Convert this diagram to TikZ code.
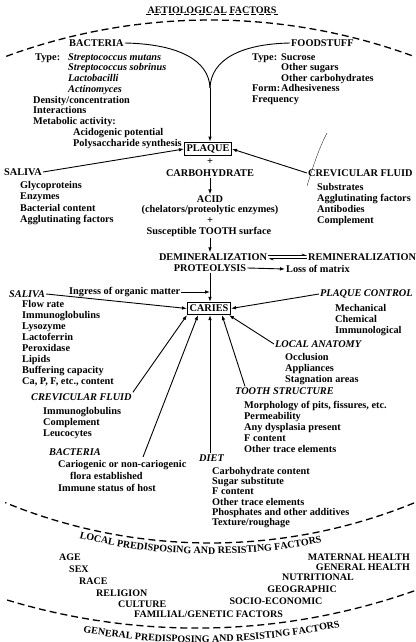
\documentclass[tikz,border=0pt]{standalone}
\usepackage{fontspec}
\setmainfont{Liberation Serif}
\usetikzlibrary{arrows.meta,decorations.text}
\newcommand{\ind}[1]{\hspace*{#1pt}}
\newcommand{\hd}[2]{\makebox[#1pt][l]{#2}}
\newcommand{\bodyfont}{\fontsize{10.3}{11}\selectfont\bfseries}
\newcommand{\capfont}{\fontsize{10}{11}\selectfont\bfseries}

\begin{document}
\begin{tikzpicture}[x=1pt,y=-1pt,
    lbl/.style={font=\bodyfont,inner sep=1pt},
    caplbl/.style={font=\capfont,inner sep=1pt},
    lst/.style={font=\fontsize{10.3}{#1}\selectfont\bfseries,inner sep=0pt,align=left,anchor=north west},
    lst/.default=11,
    boxed/.style={font=\bodyfont,draw,line width=1.1pt,inner xsep=2pt,inner ysep=2.6pt},
    link/.style={line width=0.9pt},
    arr/.style={line width=0.9pt,-{Latex[length=5pt,width=3.6pt]}},
    barb/.style={line width=0.7pt,-{Straight Barb[left,length=3.5pt,width=3pt]}},
    fence/.style={line width=1.3pt,dash pattern=on 7pt off 4pt}]
 \useasboundingbox (0,0) rectangle (415,642);

 \draw[fence] plot[domain=70:110.5,samples=60] ({210+590*cos(\x)},{610-590*sin(\x)});
 \draw (212,10) node[caplbl] (title) {AETIOLOGICAL FACTORS};
 \draw[line width=0.8pt,dash pattern=on 5pt off 2.5pt] (title.south west) -- (title.south east);

 \draw (68,43) node[lbl,anchor=west] (bact) {BACTERIA};
 \draw (33,53) node[lst=10.75] (bactlist) {\ind{2}\hd{33}{Type:}\textit{Streptococcus mutans}\\
   \ind{35}\textit{Streptococcus sobrinus}\\ \ind{35}\textit{Lactobacilli}\\ \ind{35}\textit{Actinomyces}\\
   Density/concentration\\ Interactions\\ Metabolic activity:\\
   \ind{40}Acidogenic potential\\ \ind{40}Polysaccharide synthesis};
 \draw (290,43) node[lbl,anchor=west] (food) {FOODSTUFF};
 \draw (252,53) node[lst=10.5] (foodlist) {\hd{29}{Type:}Sucrose\\ \ind{29}Other sugars\\
   \ind{29}Other carbohydrates\\ \hd{29}{Form:}Adhesiveness\\ Frequency};
 \coordinate (fork) at (210,88);
 \draw[link] (bact.east) .. controls (178,44) and (209,60) .. (fork);
 \draw[link] (food.west) .. controls (240,44) and (211,60) .. (fork);

 \draw (208,149) node[boxed] (plaque) {PLAQUE};
 \draw[arr] (fork) -- (fork |- plaque.north);
 \draw (3,172) node[lbl,anchor=west] (saliva) {SALIVA};
 \draw (20,181) node[lst=11.5] (salivalist) {Glycoproteins\\ Enzymes\\ Bacterial content\\ Agglutinating factors};
 \draw (307,173) node[lbl,anchor=west] (crev) {CREVICULAR FLUID};
 \draw (317,183) node[lst] (crevlist) {Substrates\\ Agglutinating factors\\ Antibodies\\ Complement};
 \draw[arr] (saliva.east) -- (plaque.west);
 \draw[arr] (crev.west) -- (plaque.east);
 \draw[line width=0.3pt] (327,133) .. controls (318,150) and (312,170) .. (307,186);

 \draw (210,162) node[lbl] (plusa) {+};
 \draw (210,173) node[lbl] (carbo) {CARBOHYDRATE};
 \draw (210,199) node[lbl] (acid) {ACID};
 \draw (210,210) node[lbl] (chel) {(chelators/proteolytic enzymes)};
 \draw (210,221) node[lbl] (plusb) {+};
 \draw (209,232) node[lbl] (tooth) {Susceptible TOOTH surface};
 \draw[arr] (carbo) -- (acid);

 \draw (213,257) node[lbl] (demin) {DEMINERALIZATION};
 \draw (307,257) node[lbl,anchor=west] (remin) {REMINERALIZATION};
 \draw[arr] (tooth.south -| 210,0) -- (demin.north -| 210,0);
 \draw[barb] ([yshift=1.6pt]demin.east) -- ([yshift=1.6pt]remin.west);
 \draw[barb] ([yshift=-1.6pt]remin.west) -- ([yshift=-1.6pt]demin.east);
 \draw (210,268) node[lbl] (proteo) {PROTEOLYSIS};
 \draw (285,269) node[lbl,anchor=west] (loss) {Loss of matrix};
 \draw[arr] (proteo.east) -- (loss.west);

 \draw (209,308.5) node[boxed] (caries) {CARIES};
 \draw[arr] (proteo.south) -- (proteo |- caries.north);
 \draw (68,292) node[lbl,anchor=west] (ingress) {Ingress of organic matter};
 \draw[arr] (ingress.east) -- (ingress -| proteo);

 \draw (8,294) node[lbl,anchor=west] (salivab) {\textit{SALIVA}};
 \draw (22,300) node[lst] (salivablist) {Flow rate\\ Immunoglobulins\\ Lysozyme\\ Lactoferrin\\
   Peroxidase\\ Lipids\\ Buffering capacity\\ Ca, P, F, etc., content};
 \draw (30,397) node[lbl,anchor=west] (crevb) {\textit{CREVICULAR FLUID}};
 \draw (43,407) node[lst] (crevblist) {Immunoglobulins\\ Complement\\ Leucocytes};
 \draw (48,452) node[lbl,anchor=west] (bactb) {\textit{BACTERIA}};
 \draw (58,460) node[lst=12] (bactblist) {Cariogenic or non-cariogenic\\ \ind{12}flora established\\ Immune status of host};
 \coordinate (bactend) at (143,457);
 \draw (198,458) node[lbl,anchor=west] (diet) {\textit{DIET}};
 \draw (212,467) node[lst=10.3] (dietlist) {Carbohydrate content\\ Sugar substitute\\ F content\\
   Other trace elements\\ Phosphates and other additives\\ Texture/roughage};
 \draw (319,294) node[lbl,anchor=west] (pcontrol) {\textit{PLAQUE CONTROL}};
 \draw (335,304) node[lst] (pcontrollist) {Mechanical\\ Chemical\\ Immunological};
 \draw (274,344) node[lbl,anchor=west] (lanat) {\textit{LOCAL ANATOMY}};
 \draw (285,353) node[lst] (lanatlist) {Occlusion\\ Appliances\\ Stagnation areas};
 \draw (234,391) node[lbl,anchor=west] (tstruct) {\textit{TOOTH STRUCTURE}};
 \draw (244,401) node[lst] (tstructlist) {Morphology of pits, fissures, etc.\\ Permeability\\
   Any dysplasia present\\ F content\\ Other trace elements};

 \draw[arr] (salivab.east) -- (caries.west);
 \draw[arr] (pcontrol.west) -- (caries.east);
 \draw[arr] (crevb.north east) -- ([xshift=-22pt]caries.south);
 \draw[arr] (bactend) -- ([xshift=-11pt]caries.south);
 \draw[arr] (diet.north -| 210,0) -- (caries.south -| 210,0);
 \draw[arr] ([xshift=11pt]tstruct.north west) -- ([xshift=13pt]caries.south);
 \draw[arr] (lanat.west) -- ([xshift=-2pt]caries.south east);

 \draw[fence] plot[domain=67.8:112.3,samples=60] ({210+540*cos(\x)},{3+540*sin(\x)});
 \path[decorate,decoration={text along path,text align=center,
   text={|\capfont|LOCAL PREDISPOSING AND RESISTING FACTORS}}]
   plot[domain=113:69,samples=60] ({210+551*cos(\x)},{3+551*sin(\x)});

 \draw (58,557) node[caplbl,anchor=west] (age) {AGE};
 \draw (68,569) node[caplbl,anchor=west] (sex) {SEX};
 \draw (78,581) node[caplbl,anchor=west] (race) {RACE};
 \draw (95,593) node[caplbl,anchor=west] (religion) {RELIGION};
 \draw (117,604) node[caplbl,anchor=west] (culture) {CULTURE};
 \draw (133,614) node[caplbl,anchor=west] (familial) {FAMILIAL/GENETIC FACTORS};
 \draw (411,557) node[caplbl,anchor=east] (maternal) {MATERNAL HEALTH};
 \draw (411,567) node[caplbl,anchor=east] (genhealth) {GENERAL HEALTH};
 \draw (318,577) node[caplbl] (nutrition) {NUTRITIONAL};
 \draw (302,589) node[caplbl] (geo) {GEOGRAPHIC};
 \draw (276,601) node[caplbl] (socio) {SOCIO-ECONOMIC};

 \draw[fence] plot[domain=70.6:107,samples=60] ({196.7+654.7*cos(\x)},{-26.6+654.7*sin(\x)});
 \path[decorate,decoration={text along path,text align=center,
   text={|\capfont|GENERAL PREDISPOSING AND RESISTING FACTORS}}]
   plot[domain=108.7:68.7,samples=60] ({196.7+669*cos(\x)},{-26.6+669*sin(\x)});

\end{tikzpicture}
\end{document}
